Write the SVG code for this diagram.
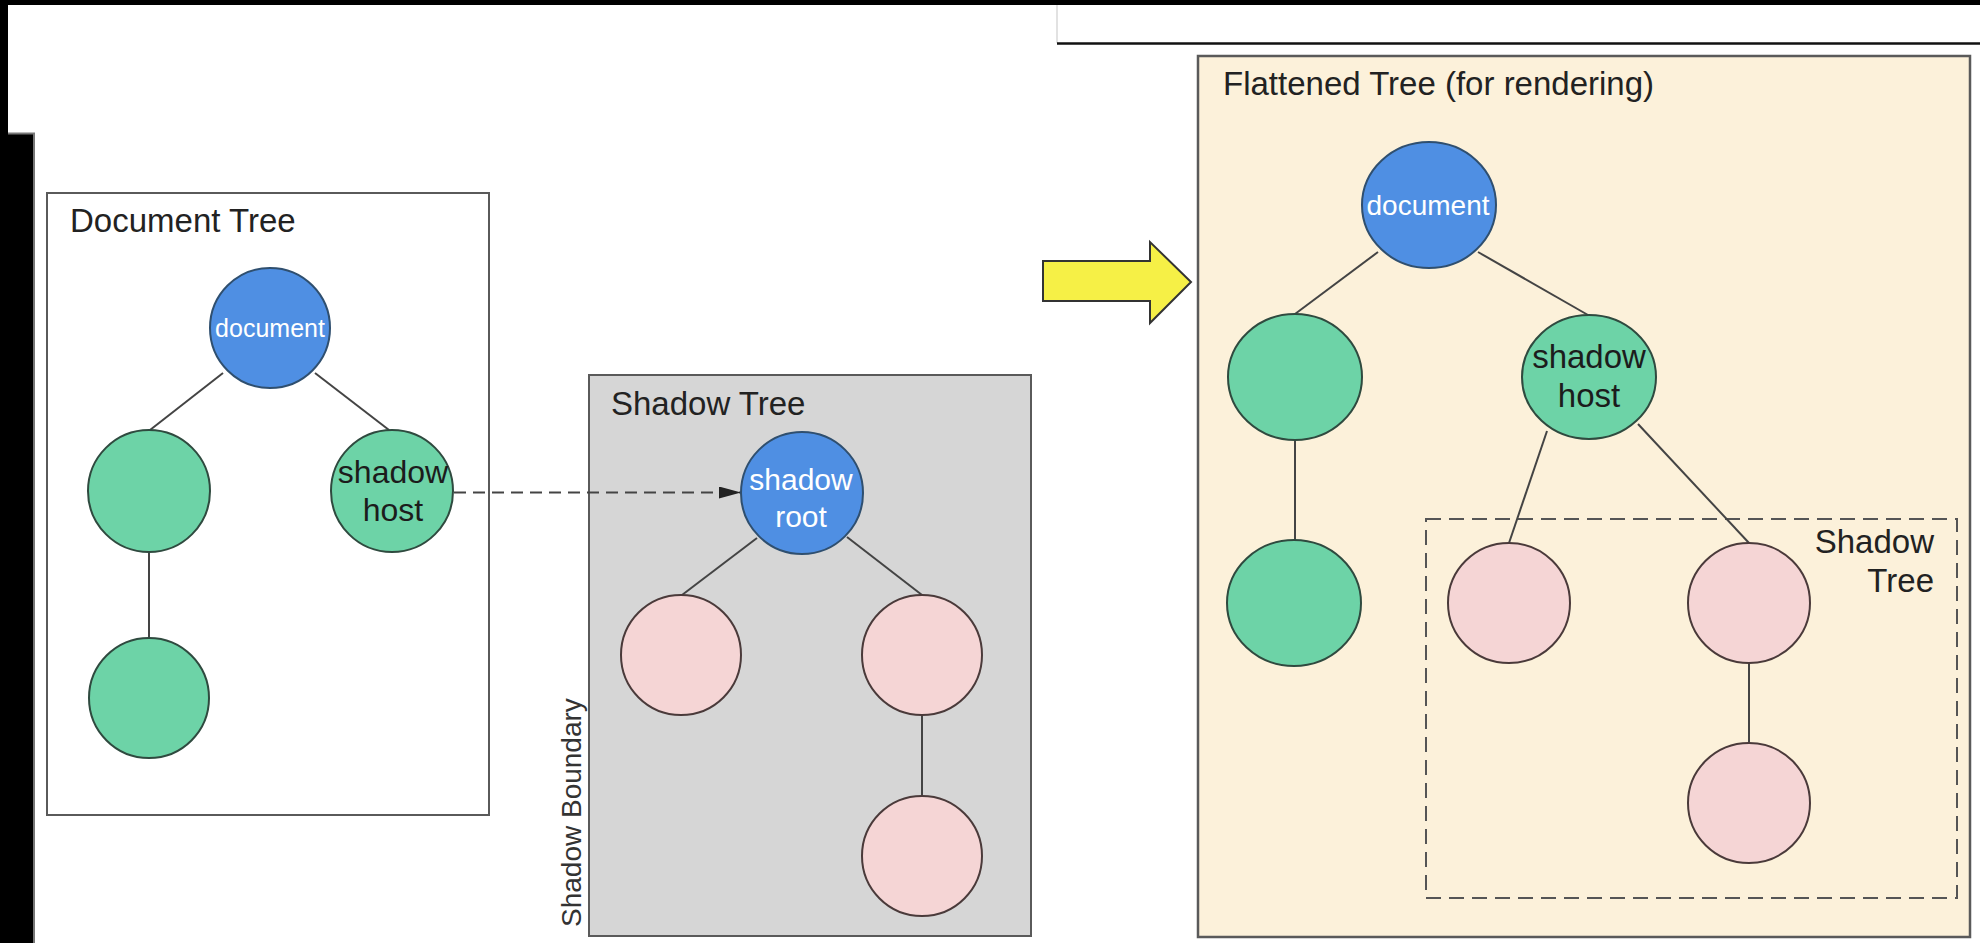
<svg xmlns="http://www.w3.org/2000/svg" width="1980" height="943" viewBox="0 0 1980 943">
  <defs>
    <style>
      .lbl { font-family: "Liberation Sans", Arial, sans-serif; font-size: 33px; fill: #222; }
      .ntxt { font-family: "Liberation Sans", Arial, sans-serif; fill: #1c1c1c; text-anchor: middle; }
      .wtxt { font-family: "Liberation Sans", Arial, sans-serif; fill: #ffffff; text-anchor: middle; }
      .blue { fill: #4f8fe3; stroke: #2f4f6f; stroke-width: 2; }
      .green { fill: #6dd3a7; stroke: #2f4a3f; stroke-width: 2; }
      .pink { fill: #f5d5d5; stroke: #4a3a3a; stroke-width: 2; }
      .edge { stroke: #444; stroke-width: 2; fill: none; }
      .frame { stroke: #5a5a5a; stroke-width: 2; }
    </style>
    <marker id="arr" viewBox="0 0 22 12" refX="22" refY="6" markerWidth="22" markerHeight="12" markerUnits="userSpaceOnUse" orient="auto">
      <path d="M0,0 L22,6 L0,12 z" fill="#222"/>
    </marker>
  </defs>

  <rect x="0" y="0" width="1980" height="943" fill="#ffffff"/>

  <!-- page frame remnants -->
  <g id="page-frame">
    <rect x="0" y="0" width="1980" height="5" fill="#000"/>
    <rect x="0" y="0" width="8" height="943" fill="#000"/>
    <rect x="0" y="133" width="33" height="810" fill="#000"/>
    <line x1="1057" y1="5" x2="1057" y2="43" stroke="#d8d8d8" stroke-width="1.5"/>
    <line x1="1057" y1="43.5" x2="1980" y2="43.5" stroke="#111" stroke-width="2.5"/>
    <polyline points="8,133.5 34,133.5 34,943" fill="none" stroke="#777" stroke-width="2"/>
  </g>

  <!-- containers -->
  <g id="document-tree-box">
    <rect x="47" y="193" width="442" height="622" fill="#ffffff" class="frame"/>
    <text x="70" y="232" class="lbl">Document Tree</text>
  </g>

  <g id="shadow-tree-box">
    <rect x="589" y="375" width="442" height="561" fill="#d6d6d6" class="frame"/>
    <text x="611" y="415" class="lbl">Shadow Tree</text>
    <text transform="translate(581,927) rotate(-90)" font-family="Liberation Sans, Arial, sans-serif" font-size="28" fill="#333">Shadow Boundary</text>
  </g>

  <g id="flattened-tree-box">
    <rect x="1198" y="56" width="772" height="881" fill="#fcf1da" stroke="#5a5a5a" stroke-width="2.5"/>
    <text x="1223" y="95" class="lbl">Flattened Tree (for rendering)</text>
  </g>

  <g id="flattened-shadow-tree-box">
    <rect x="1426" y="519" width="531" height="379" fill="none" stroke="#555" stroke-width="2" stroke-dasharray="15 8"/>
    <text x="1934" y="553" class="lbl" text-anchor="end">Shadow</text>
    <text x="1934" y="592" class="lbl" text-anchor="end">Tree</text>
  </g>

  <g id="transform-arrow">
    <polygon points="1043,261 1150,261 1150,242 1191,282 1150,323 1150,301 1043,301" fill="#f6f046" stroke="#333" stroke-width="2"/>
  </g>

  <!-- connectors -->
  <g id="connectors">
    <line class="edge" x1="223" y1="373" x2="150" y2="430"/>
    <line class="edge" x1="315" y1="373" x2="389" y2="430"/>
    <line class="edge" x1="149" y1="552" x2="149" y2="637"/>
    <line x1="454" y1="492.5" x2="741" y2="492.5" stroke="#444" stroke-width="2" stroke-dasharray="12 7" marker-end="url(#arr)"/>
    <line class="edge" x1="757" y1="538" x2="682" y2="595"/>
    <line class="edge" x1="847" y1="537" x2="922" y2="595"/>
    <line class="edge" x1="922" y1="715" x2="922" y2="796"/>
    <line class="edge" x1="1378" y1="252" x2="1295" y2="314"/>
    <line class="edge" x1="1478" y1="252" x2="1588" y2="315"/>
    <line class="edge" x1="1295" y1="440" x2="1295" y2="540"/>
    <line class="edge" x1="1547" y1="431" x2="1509" y2="543"/>
    <line class="edge" x1="1638" y1="424" x2="1749" y2="543"/>
    <line class="edge" x1="1749" y1="663" x2="1749" y2="743"/>
  </g>

  <!-- Document tree nodes -->
  <g id="dt-document">
    <circle class="blue" cx="270" cy="328" r="60"/>
    <text class="wtxt" x="270" y="337" font-size="25">document</text>
  </g>
  <g id="dt-child1">
    <circle class="green" cx="149" cy="491" r="61"/>
  </g>
  <g id="dt-shadow-host">
    <circle class="green" cx="392" cy="491" r="61"/>
    <text class="ntxt" x="393" y="483" font-size="32">shadow</text>
    <text class="ntxt" x="393" y="521" font-size="32">host</text>
  </g>
  <g id="dt-grandchild">
    <circle class="green" cx="149" cy="698" r="60"/>
  </g>

  <!-- Shadow tree nodes -->
  <g id="st-shadow-root">
    <circle class="blue" cx="802" cy="493" r="61"/>
    <text class="wtxt" x="801" y="490" font-size="30">shadow</text>
    <text class="wtxt" x="801" y="527" font-size="30">root</text>
  </g>
  <g id="st-child1">
    <circle class="pink" cx="681" cy="655" r="60"/>
  </g>
  <g id="st-child2">
    <circle class="pink" cx="922" cy="655" r="60"/>
  </g>
  <g id="st-grandchild">
    <circle class="pink" cx="922" cy="856" r="60"/>
  </g>

  <!-- Flattened tree nodes -->
  <g id="ft-document">
    <ellipse class="blue" cx="1429" cy="205" rx="67" ry="63"/>
    <text class="wtxt" x="1428" y="215" font-size="28">document</text>
  </g>
  <g id="ft-child1">
    <ellipse class="green" cx="1295" cy="377" rx="67" ry="63"/>
  </g>
  <g id="ft-shadow-host">
    <ellipse class="green" cx="1589" cy="377" rx="67" ry="62"/>
    <text class="ntxt" x="1589" y="368" font-size="33">shadow</text>
    <text class="ntxt" x="1589" y="407" font-size="33">host</text>
  </g>
  <g id="ft-grandchild">
    <ellipse class="green" cx="1294" cy="603" rx="67" ry="63"/>
  </g>
  <g id="ft-shadow-child1">
    <ellipse class="pink" cx="1509" cy="603" rx="61" ry="60"/>
  </g>
  <g id="ft-shadow-child2">
    <ellipse class="pink" cx="1749" cy="603" rx="61" ry="60"/>
  </g>
  <g id="ft-shadow-grandchild">
    <ellipse class="pink" cx="1749" cy="803" rx="61" ry="60"/>
  </g>
</svg>
